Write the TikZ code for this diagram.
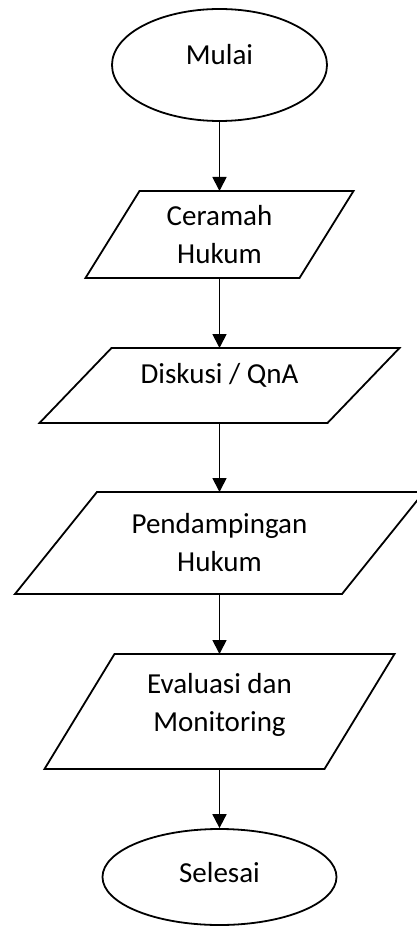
\documentclass[tikz,border=0pt]{standalone}
\usepackage{fontspec}
\setmainfont{Carlito}
\usetikzlibrary{shapes.geometric,arrows.meta}

\begin{document}
\begin{tikzpicture}[
  terminal/.style={ellipse, draw, line width=1.8pt, font=\fontsize{29}{38}\selectfont},
  io/.style={rectangle, outer sep=0pt, align=center, font=\fontsize{29}{38}\selectfont},
  ioline/.style={line width=1.8pt, line join=miter},
  flow/.style={-{Triangle[length=14pt,width=14pt]}, line width=1.8pt},
  node distance=160pt
]
\useasboundingbox (-219.5pt,65pt) rectangle (197.5pt,-863pt);
\node[terminal, minimum width=215pt, minimum height=112pt, text depth=22pt] (mulai) {Mulai};
\node[io, below of=mulai, node distance=169.5pt, minimum width=268pt, minimum height=87pt] (ceramah) {Ceramah\\Hukum};
\node[io, below of=ceramah, node distance=151pt, minimum width=360pt, minimum height=75pt, text depth=25pt] (diskusi) {Diskusi / QnA};
\node[io, below of=diskusi, node distance=157.5pt, minimum width=409pt, minimum height=102pt] (pendampingan) {Pendampingan\\Hukum};
\node[io, below of=pendampingan, node distance=168.5pt, minimum width=350pt, minimum height=115pt, text depth=18pt] (evaluasi) {Evaluasi dan\\Monitoring};
\node[terminal, below of=evaluasi, node distance=165.5pt, minimum width=234pt, minimum height=96pt, text depth=9pt] (selesai) {Selesai};

% parallelogram outlines round the input/output boxes
\foreach \n/\s in {ceramah/54pt, diskusi/72pt, pendampingan/82pt, evaluasi/70pt}
  \draw[ioline] ([xshift=\s]\n.north west) -- (\n.north east) -- ([xshift=-\s]\n.south east) -- (\n.south west) -- cycle;

\draw[flow] (mulai) -- (ceramah);
\draw[flow] (ceramah) -- (diskusi);
\draw[flow] (diskusi) -- (pendampingan);
\draw[flow] (pendampingan) -- (evaluasi);
\draw[flow] (evaluasi) -- (selesai);
\end{tikzpicture}
\end{document}
